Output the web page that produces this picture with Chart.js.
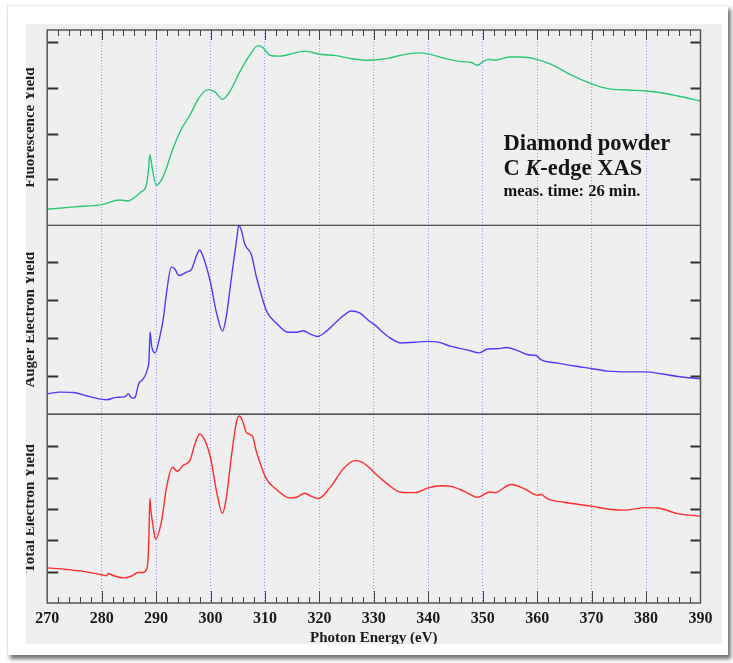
<!DOCTYPE html>
<html>
<head>
<meta charset="utf-8">
<script src="https://cdn.jsdelivr.net/npm/chart.js@4.4.1/dist/chart.umd.min.js"></script>
<style>
  html, body { margin: 0; padding: 0; background: #fff; }
  body { width: 733px; height: 663px; position: relative; overflow: hidden; }
  #frame {
    position: absolute; left: 7px; top: 5px; width: 720px; height: 649px;
    background: #fff; border-left: 1px solid #e2e2e2; border-top: 1px solid #ececec;
    box-shadow: 3px 4px 4px rgba(0,0,0,0.55);
  }
  #plot { position: absolute; left: 26px; top: 24px; width: 696px; height: 620px; background: #efefef; }
</style>
</head>
<body>
<div id="frame"></div>
<div id="plot"><canvas id="xas"></canvas></div>
<script>
  const SERIF = '"Liberation Serif", "Times New Roman", serif';

  // photon energy ticks (eV)
  const energyTicks = [270, 280, 290, 300, 310, 320, 330, 340, 350, 360, 370, 380, 390];

  // Fluorescence yield
  const fluoE = [270, 275, 280, 283.3, 284.9, 286.5, 287.3, 288.2, 288.6, 288.85, 289.3, 290, 291.3, 293.1, 294.4,
    296.2, 298, 299.5, 300.8, 302.2, 303.5, 305.4, 307.2, 308.7, 309.7, 310.9, 312.7, 315.2, 317.3, 320.1,
    323.1, 325.6, 328.9, 332.6, 335, 338.1, 340, 343, 346, 347.9, 349.1, 350, 351.1, 352.2, 354.9,
    357, 359.9, 362.6, 366.2, 369.9, 373, 376.6, 380, 382.8, 385.8, 390];
  const fluoY = [0.35, 0.40, 0.45, 0.55, 0.53, 0.65, 0.73, 0.87, 1.2, 1.54, 1.24, 0.87, 1.06, 1.67, 2.04,
    2.40, 2.80, 2.96, 2.91, 2.75, 2.91, 3.35, 3.71, 3.92, 3.87, 3.71, 3.69, 3.75, 3.80, 3.73,
    3.70, 3.64, 3.60, 3.64, 3.71, 3.76, 3.74, 3.64, 3.57, 3.55, 3.49, 3.57, 3.62, 3.60, 3.67,
    3.67, 3.62, 3.51, 3.28, 3.09, 2.98, 2.95, 2.93, 2.89, 2.82, 2.71];

  // Auger electron yield
  const augerE = [270, 272.3, 274.8, 277.8, 280.9, 282.7, 284.3, 284.9, 285.3, 285.8, 286.2, 286.8, 287.6, 288.4, 288.7,
    288.9, 289.2, 289.8, 290.7, 291.3, 292, 292.8, 293.4, 294.2, 295.6, 296.5, 297.4, 298, 298.6, 300,
    301.1, 302.2, 302.9, 303.8, 304.8, 305.2, 305.7, 306.3, 307.5, 308.4, 309.4, 310.3, 312.1, 314.2, 315.8,
    317, 318.2, 319.6, 321.3, 323.7, 325.9, 327.4, 329.2, 330.1, 332.6, 335, 337.5, 340, 341.8, 344.2,
    347.3, 349.4, 350.9, 352.8, 354.3, 356.4, 358.3, 359.8, 360.7, 363.8, 367.5, 369.9, 373, 376.6, 380,
    382.8, 385.8, 390];
  const augerY = [0.535, 0.58, 0.57, 0.46, 0.38, 0.44, 0.46, 0.535, 0.46, 0.42, 0.46, 0.80, 0.92, 1.17, 1.43,
    2.16, 1.78, 1.61, 2.04, 2.48, 3.27, 3.86, 3.82, 3.64, 3.73, 3.80, 4.15, 4.31, 4.15, 3.45,
    2.66, 2.18, 2.57, 3.54, 4.59, 4.96, 4.81, 4.46, 4.19, 3.62, 3.10, 2.70, 2.39, 2.15, 2.15,
    2.19, 2.11, 2.04, 2.18, 2.50, 2.71, 2.66, 2.44, 2.35, 2.04, 1.87, 1.89, 1.91, 1.89, 1.78,
    1.68, 1.61, 1.71, 1.72, 1.75, 1.67, 1.56, 1.54, 1.43, 1.34, 1.25, 1.20, 1.13, 1.11, 1.11,
    1.06, 0.99, 0.93];

  // Total electron yield
  const teyE = [270, 273.5, 276.6, 280, 280.9, 281.2, 281.8, 284, 285.5, 286.7, 287.6, 288.2, 288.5, 288.7, 288.85,
    289, 289.5, 289.9, 291, 291.9, 293, 293.9, 295, 296.2, 297.1, 298, 298.9, 300, 301.1, 302.2,
    302.9, 303.8, 304.8, 305.3, 305.9, 306.6, 307.7, 308.4, 309.4, 310.3, 312.1, 314.6, 315.8, 317.3, 318.5,
    319.8, 321.9, 324.3, 326.5, 327.7, 329.2, 330.1, 332.6, 335, 337.5, 340, 342.4, 344.2, 346.6, 349.1,
    351.2, 352.2, 355.2, 357.7, 360, 360.7, 361.9, 364.9, 369.9, 373.6, 376, 380, 382.1, 385.8, 390];
  const teyY = [1.12, 1.07, 1.01, 0.90, 0.87, 0.94, 0.90, 0.80, 0.86, 0.97, 0.97, 1.06, 1.33, 2.23, 3.33,
    3.03, 2.39, 2.04, 2.61, 3.67, 4.33, 4.20, 4.39, 4.54, 5.05, 5.39, 5.21, 4.63, 3.56, 2.86,
    3.35, 4.63, 5.80, 5.96, 5.80, 5.43, 5.32, 4.84, 4.31, 3.94, 3.62, 3.35, 3.37, 3.50, 3.40,
    3.33, 3.67, 4.26, 4.54, 4.50, 4.31, 4.15, 3.78, 3.53, 3.52, 3.67, 3.74, 3.72, 3.56, 3.37,
    3.54, 3.52, 3.78, 3.64, 3.44, 3.46, 3.32, 3.21, 3.09, 2.98, 2.96, 3.04, 3.03, 2.85, 2.77];

  const panelTitles = ["Fluorescence Yield", "Auger Electron Yield", "Total Electron Yield"];

  const toPoints = (xs, ys) => xs.map((x, i) => ({ x: x, y: ys[i] }));

  const lineSet = (label, xs, ys, color, axis) => ({
    label, data: toPoints(xs, ys), yAxisID: axis,
    borderColor: color, borderWidth: 1.4, pointRadius: 0,
    cubicInterpolationMode: "monotone", fill: false
  });

  const hiddenY = (max, weight) => ({
    type: "linear", position: "left", stack: "panels", stackWeight: weight,
    min: 0, max: max,
    ticks: { display: false }, grid: { display: false }, border: { display: false },
    afterFit: s => { s.width = 21.2; }
  });

  // frame, inner ticks, panel titles and note
  const decorations = {
    id: "decorations",
    afterDraw(chart) {
      const { ctx, chartArea: a, scales } = chart;
      const x = scales.x;
      const panels = [scales.yF, scales.yA, scales.yT];
      ctx.save();

      // inward ticks on y axes
      ctx.strokeStyle = "#333";
      ctx.lineWidth = 2;
      panels.forEach(s => {
        for (let v = 1; v < s.max - 0.1; v++) {
          const py = Math.round(s.getPixelForValue(v)) + 0.5;
          ctx.beginPath();
          ctx.moveTo(a.left, py); ctx.lineTo(a.left + 11, py);
          ctx.moveTo(a.right - 10, py); ctx.lineTo(a.right, py);
          ctx.stroke();
        }
      });

      // photon energy ticks on top and bottom
      ctx.lineWidth = 1;
      ctx.strokeStyle = "#444";
      for (let e = 272; e < 390; e += 2) {
        const px = Math.round(x.getPixelForValue(e)) + 0.5;
        const major = e % 10 === 0;
        ctx.beginPath();
        ctx.moveTo(px, a.top); ctx.lineTo(px, a.top + (major ? 10 : 6));
        ctx.moveTo(px, a.bottom); ctx.lineTo(px, a.bottom - (major ? 12 : 6));
        ctx.stroke();
      }

      // separators between panels
      ctx.strokeStyle = "#222";
      ctx.lineWidth = 1.2;
      [scales.yF.bottom, scales.yA.bottom].forEach(py => {
        ctx.beginPath();
        ctx.moveTo(a.left, py); ctx.lineTo(a.right, py);
        ctx.stroke();
      });

      // outer frame
      ctx.strokeStyle = "#555";
      ctx.lineWidth = 1.5;
      ctx.strokeRect(a.left, a.top, a.right - a.left, a.bottom - a.top);

      // rotated panel titles (partly cut by the plot edge)
      ctx.fillStyle = "#222";
      ctx.font = "bold 15px " + SERIF;
      ctx.textAlign = "center";
      ctx.textBaseline = "alphabetic";
      panels.forEach((s, i) => {
        ctx.save();
        ctx.translate(7.5, (s.top + s.bottom) / 2);
        ctx.rotate(-Math.PI / 2);
        ctx.fillText(panelTitles[i], 0, 0);
        ctx.restore();
      });

      // note in top panel
      const nx = x.getPixelForValue(353.8);
      ctx.textAlign = "left";
      ctx.font = "bold 22.5px " + SERIF;
      ctx.fillStyle = "#151515";
      ctx.fillText("Diamond powder", nx, scales.yF.getPixelForValue(1.65));
      const y2 = scales.yF.getPixelForValue(1.107);
      let cx = nx;
      ctx.fillText("C ", cx, y2); cx += ctx.measureText("C ").width;
      ctx.font = "italic bold 22.5px " + SERIF;
      ctx.fillText("K", cx, y2); cx += ctx.measureText("K").width;
      ctx.font = "bold 22.5px " + SERIF;
      ctx.fillText("-edge XAS", cx, y2);
      ctx.font = "bold 16.5px " + SERIF;
      ctx.fillText("meas. time: 26 min.", nx, scales.yF.getPixelForValue(0.633));

      ctx.restore();
    }
  };

  new Chart(document.getElementById("xas"), {
    type: "line",
    data: {
      datasets: [
        lineSet("Fluorescence Yield", fluoE, fluoY, "#2bc878", "yF"),
        lineSet("Auger Electron Yield", augerE, augerY, "#4f3cfa", "yA"),
        lineSet("Total Electron Yield", teyE, teyY, "#ff2b2b", "yT")
      ]
    },
    options: {
      responsive: true,
      maintainAspectRatio: false,
      animation: false,
      layout: { padding: { top: 6, right: 21.5, bottom: 0, left: 0 } },
      plugins: { legend: { display: false }, tooltip: { enabled: false } },
      scales: {
        x: {
          type: "linear", min: 270, max: 390,
          afterBuildTicks: s => { s.ticks = energyTicks.map(v => ({ value: v })); },
          afterFit: s => { s.height = 41; },
          ticks: { color: "#1a1a1a", font: { family: SERIF, size: 16, weight: "bold" }, padding: 6, maxRotation: 0 },
          grid: {
            drawTicks: false, lineWidth: 1,
            color: c => (c.tick && (c.tick.value === 270 || c.tick.value === 390)) ? "rgba(0,0,0,0)" : "rgba(110,110,255,0.7)"
          },
          border: { display: false, dash: [1, 2] },
          title: {
            display: true, text: "Photon Energy (eV)", color: "#1a1a1a",
            font: { family: SERIF, size: 15, weight: "bold" }, padding: { top: 0, bottom: -3 }
          }
        },
        yT: hiddenY(6.02, 188.6),
        yA: hiddenY(4.96, 188.7),
        yF: hiddenY(4.26, 195)
      }
    },
    plugins: [decorations]
  });
</script>
</body>
</html>
